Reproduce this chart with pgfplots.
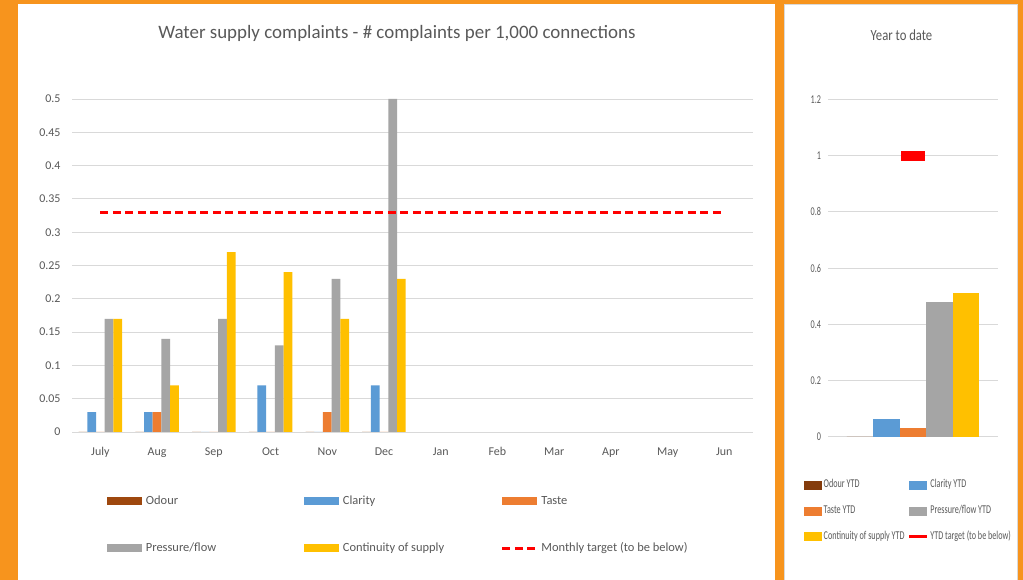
\documentclass[border=0pt]{standalone}
\usepackage{fontspec}
\setmainfont{Carlito}
\newfontfamily\condfont[FakeStretch=0.68]{Carlito}
\newfontfamily\titlefont[FakeStretch=0.82]{Carlito}
\usepackage{pgfplots}
\pgfplotsset{compat=1.18}

\definecolor{bgorange}{HTML}{F7941D}
\definecolor{odour}{HTML}{9E480E}
\definecolor{odourytd}{HTML}{843C0C}
\definecolor{clarity}{HTML}{5B9BD5}
\definecolor{taste}{HTML}{ED7D31}
\definecolor{pressure}{HTML}{A5A5A5}
\definecolor{contin}{HTML}{FFC000}
\definecolor{txt}{HTML}{595959}
\definecolor{gridc}{HTML}{D9D9D9}
\definecolor{target}{HTML}{FF0000}

\pgfplotsset{
  lbar/.style={fill=#1, draw=none,
    legend image code/.code={\fill[#1] (0bp,-4bp) rectangle (35bp,4bp);}},
  rbar/.style={fill=#1, draw=none,
    legend image code/.code={\fill[#1] (0bp,-4.5bp) rectangle (18bp,4.5bp);}},
}

\begin{document}
\begin{tikzpicture}
\useasboundingbox (0bp,0bp) rectangle (1023bp,580bp);
\fill[bgorange] (0bp,0bp) rectangle (1023bp,580bp);
\fill[white] (17.5bp,0bp) rectangle (775bp,576bp);
\filldraw[fill=white, draw=gridc, line width=0.75bp] (784.4bp,-1bp) rectangle (1017bp,576bp);

\node[font=\fontsize{19}{22}\selectfont, text=txt] at (397bp,547bp)
  {Water supply complaints - \# complaints per 1,000 connections};
\node[font=\titlefont\fontsize{15.5}{18}\selectfont, text=txt] at (901.5bp,545bp) {Year to date};

% monthly chart
\begin{axis}[
  at={(72bp,148bp)}, anchor=south west, scale only axis,
  width=680.7bp, height=333bp,
  xmin=-0.5, xmax=11.5, ymin=0, ymax=0.5,
  ybar, bar width=8.7bp,
  xtick={0,...,11},
  xticklabels={July,Aug,Sep,Oct,Nov,Dec,Jan,Feb,Mar,Apr,May,Jun},
  ytick={0,0.05,0.1,0.15,0.2,0.25,0.3,0.35,0.4,0.45,0.5},
  yticklabels={0,0.05,0.1,0.15,0.2,0.25,0.3,0.35,0.4,0.45,0.5},
  ymajorgrids, grid style={draw=gridc, line width=0.9bp},
  axis line style={draw=none}, major tick length=0pt,
  tick label style={font=\fontsize{12}{14}\selectfont, text=txt},
  yticklabel style={xshift=-8bp},
  xticklabel style={yshift=-12bp},
  legend columns=3, legend cell align=left,
  legend style={draw=none, fill=none, inner sep=0pt, at={(0.051,-0.189)},
    anchor=north west, font=\fontsize{12.5}{14}\selectfont, text=txt,
    row sep=35bp, nodes={inner sep=0pt, text height=9bp, text depth=3bp},
    /tikz/every odd column/.append style={column sep=4bp},
    /tikz/every even column/.append style={column sep=3bp}},
]
\addplot[lbar=odour, bar shift=-17.4bp] coordinates {(0,0) (1,0) (2,0) (3,0) (4,0) (5,0)};
\addlegendentry{\makebox[155bp][l]{Odour}}
\addplot[lbar=clarity, bar shift=-8.7bp] coordinates {(0,0.03) (1,0.03) (2,0) (3,0.07) (4,0) (5,0.07)};
\addlegendentry{\makebox[155bp][l]{Clarity}}
\addplot[lbar=taste, bar shift=0bp] coordinates {(0,0) (1,0.03) (2,0) (3,0) (4,0.03) (5,0)};
\addlegendentry{\makebox[155bp][l]{Taste}}
\addplot[lbar=pressure, bar shift=8.7bp] coordinates {(0,0.17) (1,0.14) (2,0.17) (3,0.13) (4,0.23) (5,0.5)};
\addlegendentry{\makebox[155bp][l]{Pressure/flow}}
\addplot[lbar=contin, bar shift=17.4bp] coordinates {(0,0.17) (1,0.07) (2,0.27) (3,0.24) (4,0.17) (5,0.23)};
\addlegendentry{\makebox[155bp][l]{Continuity of supply}}
\addplot[sharp plot, target, line width=3bp, dash pattern=on 8bp off 4.5bp,
  legend image code/.code={\draw[target, line width=3bp, dash pattern=on 8bp off 4.5bp] (0bp,0) -- (33bp,0);}]
  coordinates {(0,0.33) (11,0.33)};
\addlegendentry{\makebox[155bp][l]{Monthly target (to be below)}}
\end{axis}

% year to date chart
\begin{axis}[
  at={(828bp,143.3bp)}, anchor=south west, scale only axis,
  width=170bp, height=337.2bp,
  xmin=-0.5, xmax=0.5, ymin=0, ymax=1.2,
  ybar, bar width=26.5bp,
  xtick=\empty,
  ytick={0,0.2,0.4,0.6,0.8,1,1.2},
  yticklabels={0,0.2,0.4,0.6,0.8,1,1.2},
  ymajorgrids, grid style={draw=gridc, line width=0.9bp},
  axis line style={draw=none}, major tick length=0pt,
  tick label style={font=\condfont\fontsize{12}{14}\selectfont, text=txt},
  yticklabel style={xshift=-3.5bp},
  clip=false,
  legend columns=2, legend cell align=left,
  legend style={draw=none, fill=none, inner sep=0pt, at={(-0.141,-0.129)},
    anchor=north west, font=\condfont\fontsize{12}{14}\selectfont, text=txt,
    row sep=15.8bp, nodes={inner sep=0pt, text height=7.5bp, text depth=2.5bp},
    /tikz/every odd column/.append style={column sep=1.5bp},
    /tikz/every even column/.append style={column sep=2.2bp}},
]
\addplot[rbar=odourytd, bar shift=-53bp] coordinates {(0,0)};
\addlegendentry{\makebox[82bp][l]{Odour YTD}}
\addplot[rbar=clarity, bar shift=-26.5bp] coordinates {(0,0.062)};
\addlegendentry{\makebox[82bp][l]{Clarity YTD}}
\addplot[rbar=taste, bar shift=0bp] coordinates {(0,0.032)};
\addlegendentry{\makebox[82bp][l]{Taste YTD}}
\addplot[rbar=pressure, bar shift=26.5bp] coordinates {(0,0.481)};
\addlegendentry{\makebox[82bp][l]{Pressure/flow YTD}}
\addplot[rbar=contin, bar shift=53bp] coordinates {(0,0.512)};
\addlegendentry{\makebox[82bp][l]{Continuity of supply YTD}}
\addplot[sharp plot, only marks, mark=-, mark size=11.6bp,
  mark options={draw=target, line width=9.7bp},
  legend image code/.code={\draw[target, line width=3bp] (0bp,0) -- (18bp,0);}]
  coordinates {(0,1)};
\addlegendentry{\makebox[82bp][l]{YTD target (to be below)}}
\end{axis}
\end{tikzpicture}
\end{document}
